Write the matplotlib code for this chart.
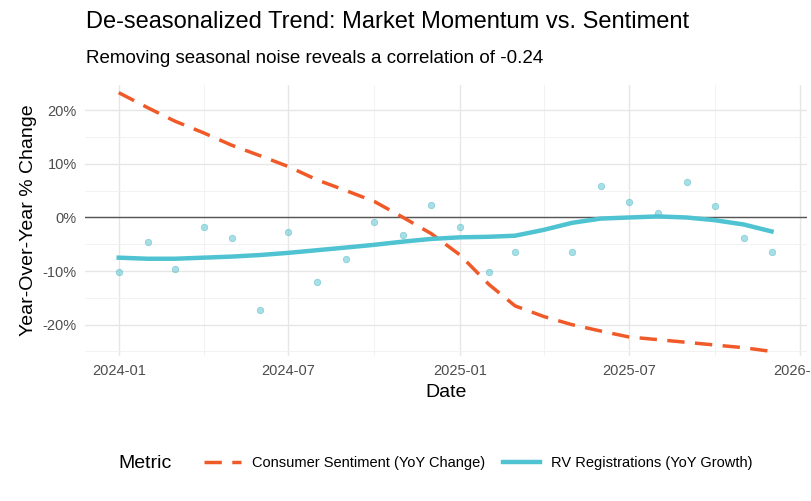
import numpy as np
import pandas as pd
import matplotlib
matplotlib.use('Agg')
import matplotlib.pyplot as plt
import matplotlib.dates as mdates

plt.rcParams['font.family'] = ['Liberation Sans', 'DejaVu Sans']

months = pd.date_range('2024-01-01', '2025-12-01', freq='MS')

# raw rv registrations yoy (%), April 2025 missing
rv_raw = [-10.2, -4.5, -9.7, -1.7, -3.9, -17.2, -2.8, -12.1, -7.7, -0.9, -3.2, 2.4,
          -1.7, -10.1, -6.5, np.nan, -6.4, 5.8, 2.8, 0.9, 6.7, 2.2, -3.9, -6.4]
rv_trend = [-7.5, -7.7, -7.7, -7.5, -7.3, -7.0, -6.6, -6.1, -5.6, -5.1, -4.5, -4.0,
            -3.7, -3.6, -3.4, -2.3, -1.0, -0.2, 0.0, 0.2, 0.0, -0.5, -1.3, -2.6]
sentiment = [23.3, 20.5, 18.0, 15.8, 13.5, 11.5, 9.5, 7.0, 5.0, 3.0, 0.0, -3.0,
             -7.0, -12.5, -16.5, -18.5, -20.0, -21.2, -22.3, -22.8, -23.3, -23.8, -24.3, -25.0]

orange = '#F05A28'
teal = '#4FC3D1'

fig = plt.figure(figsize=(8.11, 5.01), dpi=100)
ax = fig.add_axes([0.105, 0.29, 0.89, 0.54])

ax.scatter(months, rv_raw, s=22, color=teal, alpha=0.5, edgecolor='#3aa9b6', linewidth=0.5, zorder=3)
ax.axhline(0, color='#555555', linewidth=1, zorder=2)
ax.plot(months, sentiment, color=orange, linewidth=2.5, dashes=(5, 3), zorder=4,
        label='Consumer Sentiment (YoY Change)')
ax.plot(months, rv_trend, color=teal, linewidth=3.2, zorder=4,
        label='RV Registrations (YoY Growth)')

ax.set_ylim(-25.8, 24.7)
ax.set_xlim(pd.Timestamp('2023-11-26'), pd.Timestamp('2026-01-08'))
ax.set_yticks([-20, -10, 0, 10, 20])
ax.set_yticks([-25, -15, -5, 5, 15], minor=True)
ax.yaxis.set_major_formatter(matplotlib.ticker.FuncFormatter(lambda v, p: f'{v:.0f}%'))
ax.set_xticks(pd.to_datetime(['2024-01-01', '2024-07-01', '2025-01-01', '2025-07-01', '2026-01-01']))
ax.set_xticks(pd.to_datetime(['2024-04-01', '2024-10-01', '2025-04-01', '2025-10-01']), minor=True)
ax.xaxis.set_major_formatter(mdates.DateFormatter('%Y-%m'))
ax.grid(which='major', color='#e6e6e6', linewidth=1)
ax.grid(which='minor', color='#f0f0f0', linewidth=0.6)
ax.set_axisbelow(True)
for s in ax.spines.values():
    s.set_visible(False)
ax.tick_params(which='both', length=0, labelsize=10.5, colors='#4d4d4d', pad=6)
ax.set_xlabel('Date', fontsize=14)
ax.set_ylabel('Year-Over-Year % Change', fontsize=14)

fig.text(0.106, 0.945, 'De-seasonalized Trend: Market Momentum vs. Sentiment', fontsize=17)
fig.text(0.106, 0.875, 'Removing seasonal noise reveals a correlation of -0.24', fontsize=13.5)

leg = fig.legend(*ax.get_legend_handles_labels(), loc='center', bbox_to_anchor=(0.59, 0.075),
                 ncol=2, frameon=False, fontsize=10.5, handlelength=2.5, columnspacing=1.2)
fig.text(0.146, 0.075, 'Metric', fontsize=14, va='center')

fig.savefig('out.png', dpi=100)
